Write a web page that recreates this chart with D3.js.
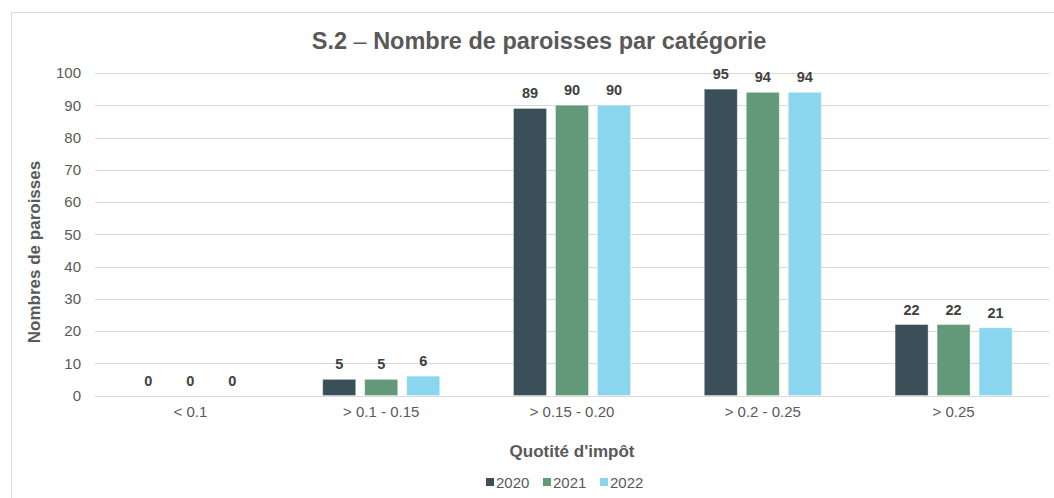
<!DOCTYPE html>
<html>
<head>
<meta charset="utf-8">
<script src="https://cdn.jsdelivr.net/npm/d3@7"></script>
<style>
  html, body { margin: 0; padding: 0; background: #fff; }
  svg { display: block; font-family: "Liberation Sans", Arial, sans-serif; }
</style>
</head>
<body>
<svg id="chart" width="1054" height="498"></svg>
<script>
const categories = ["< 0.1", "> 0.1 - 0.15", "> 0.15 - 0.20", "> 0.2 - 0.25", "> 0.25"];
const years = ["2020", "2021", "2022"];
const values2020 = [0, 5, 89, 95, 22];
const values2021 = [0, 5, 90, 94, 22];
const values2022 = [0, 6, 90, 94, 21];
const yTicks = [0, 10, 20, 30, 40, 50, 60, 70, 80, 90, 100];
const colors = ["#3b4f59", "#629a79", "#8bd6ef"];

const seriesValues = [values2020, values2021, values2022];
const data = categories.map((c, i) => ({
  cat: c,
  vals: years.map((yr, j) => ({ year: yr, value: seriesValues[j][i], color: colors[j] }))
}));

const svg = d3.select("#chart");
const textColor = "#595959";
const fontFam = '"Liberation Sans", Arial, sans-serif';

// frame
svg.append("rect").attr("x", 11.5).attr("y", 12.5).attr("width", 1100).attr("height", 600)
  .attr("fill", "none").attr("stroke", "#d9d9d9");

const plotLeft = 95, plotRight = 1049, plotTop = 73, plotBottom = 395.5;
const x0 = d3.scaleBand().domain(categories).range([plotLeft, plotRight]).padding(0);
const x1 = d3.scaleBand().domain(years).range([0, 117]).paddingInner(9 / 42).paddingOuter(0);
const y = d3.scaleLinear().domain([0, 100]).range([plotBottom, plotTop]);

// gridlines
svg.append("g").selectAll("line").data(yTicks).join("line")
  .attr("x1", plotLeft).attr("x2", plotRight)
  .attr("y1", d => Math.round(y(d)) + 0.5).attr("y2", d => Math.round(y(d)) + 0.5)
  .attr("stroke", "#d9d9d9").attr("stroke-width", 1);

// y axis
const yAxis = svg.append("g").attr("transform", `translate(${plotLeft},0)`)
  .call(d3.axisLeft(y).tickValues(yTicks).tickSize(0).tickPadding(14));
yAxis.select(".domain").remove();
yAxis.selectAll("text").attr("fill", textColor).style("font-size", "15px")
  .style("font-family", fontFam);

// x axis
const xAxis = svg.append("g").attr("transform", `translate(0,${plotBottom})`)
  .call(d3.axisBottom(x0).tickSize(0).tickPadding(11));
xAxis.select(".domain").remove();
xAxis.selectAll("text").attr("fill", textColor).style("font-size", "15px")
  .style("font-family", fontFam);

// bars
const groups = svg.append("g").selectAll("g").data(data).join("g")
  .attr("transform", d => `translate(${x0(d.cat) + x0.bandwidth() / 2 - 58.5},0)`);

groups.selectAll("rect").data(d => d.vals).join("rect")
  .attr("x", d => x1(d.year))
  .attr("y", d => y(d.value))
  .attr("width", x1.bandwidth())
  .attr("height", d => y(0) - y(d.value))
  .attr("fill", d => d.color)
  .attr("stroke", "rgba(255,255,255,0.35)").attr("stroke-width", 1);

groups.selectAll("text").data(d => d.vals).join("text")
  .attr("x", d => x1(d.year) + x1.bandwidth() / 2)
  .attr("y", d => y(d.value) - 10)
  .attr("text-anchor", "middle")
  .attr("fill", "#404040")
  .style("font-size", "14.5px").style("font-weight", "bold")
  .text(d => d.value);

// title
const title = svg.append("text").attr("x", 539).attr("y", 48.5).attr("text-anchor", "middle")
  .attr("fill", textColor).style("font-size", "23.5px").style("font-weight", "bold");
title.append("tspan").text("S.2 ");
title.append("tspan").style("font-weight", "normal").text("–");
title.append("tspan").text(" Nombre de paroisses par catégorie");

// y axis title
svg.append("text").attr("transform", "translate(40,252) rotate(-90)")
  .attr("text-anchor", "middle").attr("fill", textColor)
  .style("font-size", "17px").style("font-weight", "bold").text("Nombres de paroisses");

// x axis title
svg.append("text").attr("x", (plotLeft + plotRight) / 2).attr("y", 456.5).attr("text-anchor", "middle")
  .attr("fill", textColor).style("font-size", "17px").style("font-weight", "bold")
  .text("Quotité d'impôt");

// legend
const legendX = [486, 543, 600];
const legend = svg.append("g").selectAll("g").data(years).join("g")
  .attr("transform", (d, i) => `translate(${legendX[i]},478)`);
legend.append("rect").attr("width", 8).attr("height", 8).attr("fill", (d, i) => colors[i]);
legend.append("text").attr("x", 10).attr("y", 10).attr("fill", textColor)
  .style("font-size", "15px").text(d => d);
</script>
</body>
</html>
